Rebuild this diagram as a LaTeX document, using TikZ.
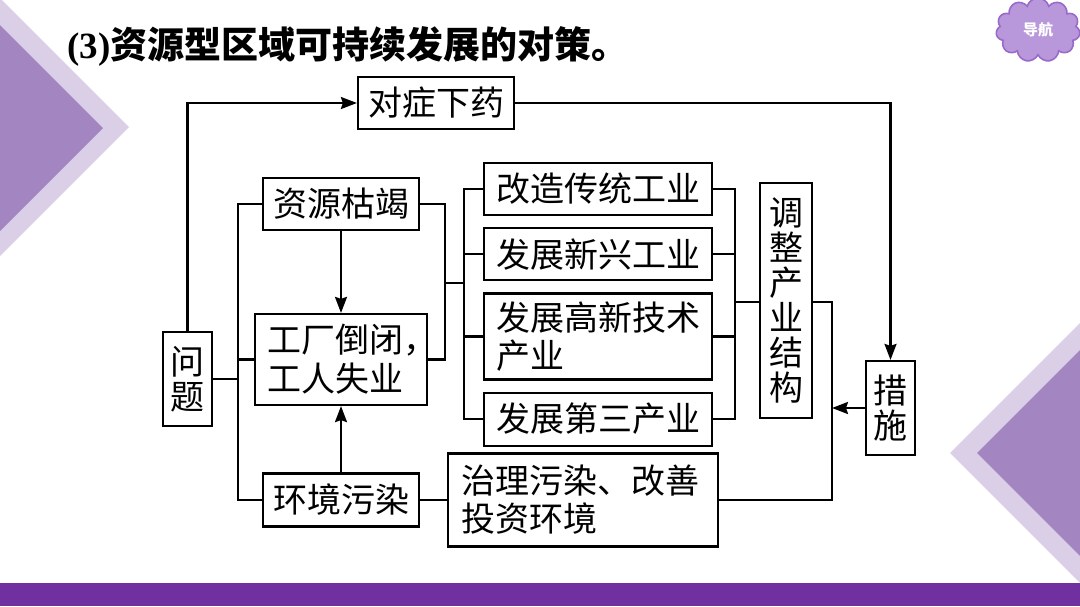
\documentclass[tikz,border=0pt]{standalone}
\usepackage{fontspec}
\setmainfont{Liberation Serif}
\newfontfamily\cjk{Noto Sans CJK SC}
\usetikzlibrary{arrows.meta,positioning,shapes.symbols}

\definecolor{barpurple}{HTML}{7030A0}
\definecolor{lightlilac}{HTML}{DBCFE7}
\definecolor{darklilac}{HTML}{A385C2}
\definecolor{cloudfill}{HTML}{B898DA}
\definecolor{cloudline}{HTML}{9A6ACB}

\tikzset{
  box/.style={draw, line width=2.2pt, inner sep=0pt, align=center,
    font=\cjk\fontsize{34}{38}\selectfont},
  vbox/.style={box, font=\cjk\fontsize{34}{35}\selectfont},
  link/.style={line width=2.2pt},
}

\begin{document}
\begin{tikzpicture}[x=1pt,y=-1pt,>={Stealth[length=16pt,width=12pt,inset=2pt]},node distance=11pt]
    \useasboundingbox (0,0) rectangle (1080,606);
    % background
    \fill[lightlilac] (0,-2) -- (129,127) -- (0,256) -- cycle;
    \fill[darklilac]  (0,25) -- (103,128) -- (0,231) -- cycle;
    \fill[lightlilac] (1080,323) -- (950,453) -- (1080,583) -- cycle;
    \fill[darklilac]  (1080,350) -- (977,453) -- (1080,556) -- cycle;
    \fill[barpurple]  (0,583) rectangle (1080,606);
    \node[cloud, cloud puffs=11, aspect=1.35, inner sep=0pt, minimum width=84, minimum height=64,
          fill=cloudfill, draw=cloudline, line width=1.6pt, text=white,
          font=\cjk\bfseries\fontsize{15}{15}\selectfont] (nav) at (1038,30) {导航};
    \node[anchor=west, inner sep=0pt, font=\fontsize{37}{40}\selectfont] (title) at (67,46)
         {\textbf{(3)}{\cjk\bfseries 资源型区域可持续发展的对策。}};

    % boxes
    \node[box, minimum width=156, minimum height=52] (remedy)    at (436,103)   {对症下药};
    \node[vbox, minimum width=49, minimum height=94] (issue)     at (187.5,379) {问\\题};
    \node[box, minimum width=156, minimum height=52] (depletion) at (341,204)   {资源枯竭};
    \node[box, minimum width=172, minimum height=91, text width=148, align=left,
          font=\cjk\fontsize{34}{39}\selectfont]     (closure)   at (341,359.5) {工厂倒闭\rlap{，}\\工人失业};
    \node[box, minimum width=156, minimum height=53] (pollution) at (341,500)   {环境污染};
    \node[box, minimum width=270, minimum height=93, text width=244, align=left]
                                                     (treat)     at (583,500)   {治理污染、改善\\投资环境};
    \node[box, minimum width=228, minimum height=52] (reform)    at (598,189)   {改造传统工业};
    \node[box, minimum width=228, minimum height=52] (newind)    [below=of reform] {发展新兴工业};
    \node[box, minimum width=228, minimum height=86, text width=204, align=left]
                                                     (hitech)    [below=of newind] {发展高新技术\\产业};
    \node[box, minimum width=228, minimum height=53] (tertiary)  [below=of hitech] {发展第三产业};
    \node[vbox, minimum width=52, minimum height=235] (adjust)   at (786,300.5) {调\\整\\产\\业\\结\\构};
    \node[vbox, minimum width=49, minimum height=94] (measure)   at (890.5,408) {措\\施};

    % joints
    \coordinate (lbar) at (238,379);
    \coordinate (mbar) at (445,283);
    \coordinate (ibar) at (464,283);
    \coordinate (rbar) at (735,302);
    \coordinate (obar) at (832,302);

    % connectors
    \draw[link,->] (issue.north) |- (remedy.west);
    \draw[link,->] (remedy.east) -| (measure.north);
    \draw[link] (issue.east) -- (lbar);
    \draw[link] (depletion.west) -| (lbar) |- (pollution.west);
    \draw[link] (closure.west) -- (closure.west -| lbar);
    \draw[link,->] (depletion) -- (closure);
    \draw[link,->] (pollution) -- (closure);
    \draw[link] (depletion.east) -| (mbar) |- (closure.east);
    \draw[link] (mbar) -- (ibar);
    \draw[link] (reform.west) -| (ibar) |- (tertiary.west);
    \draw[link] (newind.west) -- (newind.west -| ibar);
    \draw[link] (hitech.west) -- (hitech.west -| ibar);
    \draw[link] (reform.east) -| (rbar) |- (tertiary.east);
    \draw[link] (newind.east) -- (newind.east -| rbar);
    \draw[link] (hitech.east) -- (hitech.east -| rbar);
    \draw[link] (rbar) -- (rbar -| adjust.west);
    \draw[link] (rbar -| adjust.east) -- (obar) |- (treat.east);
    \draw[link,->] (measure.west) -- (measure.west -| obar);
    \draw[link] (pollution.east) -- (treat.west);
\end{tikzpicture}
\end{document}
